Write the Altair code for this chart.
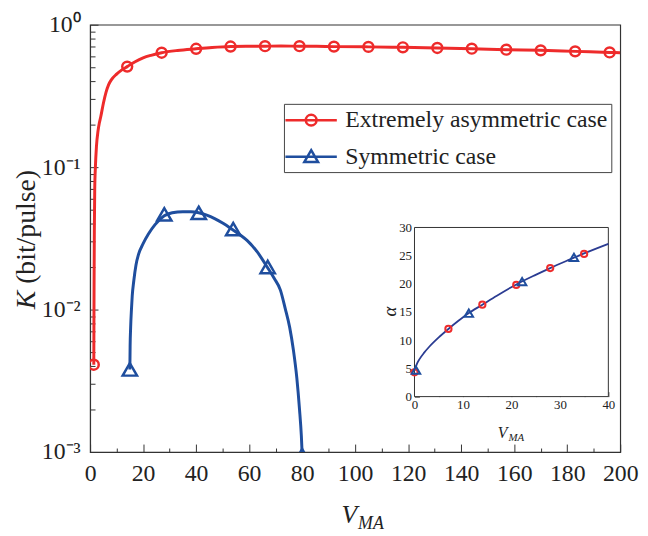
import altair as alt
import pandas as pd

FONT = "Liberation Serif"
W, H = 536, 432
RED = "#ee2b2b"
BLUE = "#1f4e9e"
NAVY = "#2b3c92"
INK = "#222222"

# ---------------- data ----------------
series_names = ["Extremely asymmetric case", "Symmetric case"]

red_x = [1.4, 1.45, 1.5, 1.6, 1.75, 2.0, 2.4, 3.0, 3.5, 4.0, 5.0, 6.0, 7.0, 8.0, 10, 12, 14, 17, 20, 23,
         27, 33, 40, 46, 53, 60, 66, 72, 79, 85.5, 92, 105, 118, 131, 144, 157, 170, 183, 196, 200]
red_y = [0.0041, 0.008, 0.015, 0.035, 0.07, 0.1, 0.14, 0.18, 0.205, 0.225, 0.28, 0.335, 0.38, 0.41, 0.45,
         0.482, 0.508, 0.55, 0.585, 0.61, 0.636, 0.66, 0.678, 0.692, 0.703, 0.706, 0.707, 0.708, 0.707,
         0.705, 0.702, 0.699, 0.694, 0.687, 0.679, 0.668, 0.661, 0.650, 0.639, 0.636]
red_mx = [1.4, 14, 27, 40, 53, 66, 79, 92, 105, 118, 131, 144, 157, 170, 183, 196]
red_my = [0.0041, 0.508, 0.636, 0.678, 0.703, 0.707, 0.707, 0.702, 0.699, 0.694, 0.687, 0.679,
          0.668, 0.661, 0.650, 0.639]

blue_x = [15.0, 15.1, 15.3, 15.6, 15.9, 16.5, 17.3, 18.3, 20, 22, 24.5, 28, 31, 35, 38, 41, 44, 47, 50,
          53.4, 56.5, 59.3, 63, 66.8, 69.5, 71.8, 73.6, 75.3, 76.7, 78, 79, 79.7, 80.2]
blue_y = [0.0038, 0.0055, 0.0075, 0.0100, 0.0125, 0.016, 0.0205, 0.0245, 0.029, 0.0339, 0.0395, 0.0455,
          0.0478, 0.0487, 0.0486, 0.0478, 0.046, 0.0435, 0.0405, 0.0368, 0.0335, 0.0305, 0.0255, 0.0199,
          0.0165, 0.0137, 0.0102, 0.0075, 0.0052, 0.0033, 0.002, 0.0013, 0.0008]
blue_mx = [15, 28, 41, 54, 67, 80]
blue_my = [0.0038, 0.0466, 0.0478, 0.0367, 0.0199, 0.00095]

# inset: alpha vs V_MA
inset_cx = [0, 0.5, 1, 2, 3, 5, 7, 9, 11, 14, 17, 21, 25, 28, 32, 35, 40]
inset_cy = [4.6, 5.8, 6.6, 7.8, 8.8, 10.5, 12.0, 13.4, 14.7, 16.3, 17.9, 19.9, 21.6, 22.8, 24.3, 25.4, 27.1]
inset_red_x = [0, 7, 14, 21, 28, 35]
inset_red_y = [4.3, 12.0, 16.3, 19.8, 22.8, 25.3]
inset_blue_x = [0.3, 11.2, 22.2, 32.9]
inset_blue_y = [4.7, 14.8, 20.4, 24.7]

x_major = list(range(0, 201, 20))
x_minor_all = list(range(0, 201, 10))
y_decades = [0.001, 0.01, 0.1, 1]
y_tick_labels = ["10\u207b\u00b3", "10\u207b\u00b2", "10\u207b\u00b9", "10\u2070"]
y_minor_all = [k * 10.0 ** e for e in (-3, -2, -1) for k in range(1, 10)] + [1.0]
ix_major = list(range(0, 41, 10))
ix_all = list(range(0, 41, 5))
iy_major = list(range(0, 31, 5))
iy_all = [i * 2.5 for i in range(13)]

x_title = ["V", "MA"]
y_title = ["K", "(bit/pulse)"]
inset_titles = ["\u03b1", "V", "MA"]

# ---------------- frames ----------------
red_line_df = pd.DataFrame({"x": red_x, "y": red_y})
red_pts_df = pd.DataFrame({"x": red_mx, "y": red_my})
blue_line_df = pd.DataFrame({"x": blue_x, "y": blue_y})
blue_pts_df = pd.DataFrame({"x": blue_mx, "y": blue_my})
legend_df = pd.DataFrame({"series": series_names})
ic_df = pd.DataFrame({"x": inset_cx, "y": inset_cy})
ir_df = pd.DataFrame({"x": inset_red_x, "y": inset_red_y})
ib_df = pd.DataFrame({"x": inset_blue_x, "y": inset_blue_y})
frame_df = pd.DataFrame({"x": [0], "x2": [40], "y": [0], "y2": [30]})

xs = alt.Scale(domain=[0, 200], nice=False, zero=False)
ys = alt.Scale(type="log", domain=[0.001, 1], nice=False)

lab_expr = ("datum.value > 0.5 ? '%s' : datum.value > 0.05 ? '%s' : datum.value > 0.005 ? '%s' : '%s'"
            % (y_tick_labels[3], y_tick_labels[2], y_tick_labels[1], y_tick_labels[0]))

ax_x_lab = alt.Axis(values=x_major, ticks=False, tickSize=0, labelPadding=10, title=None, grid=False,
                    labelFontSize=24, labelFont=FONT, labelColor=INK, domainColor="#333",
                    labelOverlap=False, labelFlush=False)
ax_y_lab = alt.Axis(values=y_decades, ticks=False, tickSize=0, labelPadding=10, title=None, grid=False,
                    labelFontSize=24, labelFont=FONT, labelColor=INK, domainColor="#333",
                    labelExpr=lab_expr, labelOverlap=False, labelBaseline="middle", labelFlush=False)
ax_x_tick = alt.Axis(orient="top", offset=-H, values=x_minor_all, labels=False, domain=False, title=None,
                     grid=False, tickColor="#333",
                     tickSize={"condition": {"test": "datum.value % 20 === 0", "value": 8}, "value": 4})
ax_y_tick = alt.Axis(orient="right", offset=-W, values=y_minor_all, labels=False, domain=False, title=None,
                     grid=False, tickColor="#333",
                     tickSize={"condition": {"test": "abs(log(datum.value)/LN10 - round(log(datum.value)/LN10)) < 0.001",
                                             "value": 8}, "value": 5})

red_line = alt.Chart(red_line_df).mark_line(color=RED, strokeWidth=3, interpolate="monotone", clip=True).encode(
    x=alt.X("x:Q", scale=xs, axis=ax_x_lab), y=alt.Y("y:Q", scale=ys, axis=ax_y_lab))
blue_line = alt.Chart(blue_line_df).mark_line(color=BLUE, strokeWidth=3, interpolate="monotone", clip=True).encode(
    x=alt.X("x:Q", scale=xs, axis=ax_x_tick), y=alt.Y("y:Q", scale=ys, axis=ax_y_tick))
red_pts = alt.Chart(red_pts_df).mark_point(shape="circle", filled=False, size=100, strokeWidth=2.5,
                                           color=RED, opacity=1, clip=True).encode(
    x=alt.X("x:Q", scale=xs, axis=None), y=alt.Y("y:Q", scale=ys, axis=None))
blue_pts = alt.Chart(blue_pts_df).mark_point(shape="triangle-up", filled=False, size=210, strokeWidth=2.5,
                                             color=BLUE, opacity=1, clip=True).encode(
    x=alt.X("x:Q", scale=xs, axis=None), y=alt.Y("y:Q", scale=ys, axis=None))

# legend symbols: a line segment with the marker, in units of 12 px (symbol size 24 px)
circ_path = ("M-1.25,0L3.08,0M1.37,0A0.45,0.45,0,1,1,0.47,0A0.45,0.45,0,1,1,1.37,0")
tri_path = "M-1.25,0L3.08,0M0.92,-0.55L1.5,0.45L0.34,0.45Z"
legend_layer = alt.Chart(legend_df).mark_point(filled=False, size=576, strokeWidth=2.5, opacity=1).encode(
    color=alt.Color("series:N", scale=alt.Scale(domain=series_names, range=[RED, BLUE]),
                    legend=alt.Legend(title=None, orient="none", legendX=196, legendY=80, padding=3,
                                      symbolSize=576, symbolStrokeWidth=2.5, labelFontSize=24,
                                      labelFont=FONT, labelColor=INK, labelOffset=32, rowPadding=11,
                                      strokeColor="#444", fillColor="white", labelLimit=400)),
    shape=alt.Shape("series:N", scale=alt.Scale(domain=series_names, range=[circ_path, tri_path]))
).transform_filter("false")

txt_df = pd.DataFrame({"t": [0]})
def label(text, x, y, size, style="normal", angle=0, align="center", baseline="alphabetic"):
    return alt.Chart(txt_df).mark_text(text=text, font=FONT, fontSize=size, fontStyle=style, color=INK,
                                       angle=angle, align=align, baseline=baseline).encode(
        x=alt.value(x), y=alt.value(y))

xt1 = label(x_title[0], 270, 504, 26, "italic", align="right")
xt2 = label(x_title[1], 271, 510, 18, "italic", align="left")
yt1 = label(y_title[0], -64, 269, 28, "italic", angle=270, align="right", baseline="middle")
yt2 = label(y_title[1], -64, 262, 28, "normal", angle=270, align="left", baseline="middle")

main = alt.layer(red_line, blue_line, red_pts, blue_pts, legend_layer, xt1, xt2, yt1, yt2).resolve_axis(
    x="independent", y="independent")

# ---------------- inset ----------------
IX0, IX1, IYB, IYT = 328, 524, 376, 205
ixs = alt.Scale(domain=[0, 40], range=[IX0, IX1], nice=False, zero=False)
iys = alt.Scale(domain=[0, 30], range=[IYB, IYT], nice=False, zero=False)

iax_x_lab = alt.Axis(orient="bottom", offset=IYB - H, values=ix_major, ticks=False, tickSize=0, domain=False,
                     labelPadding=2, labelFontSize=13, labelFont=FONT, labelColor=INK, title=None, grid=False,
                     labelOverlap=False, labelFlush=False)
iax_y_lab = alt.Axis(orient="left", offset=-IX0, values=iy_major, ticks=False, tickSize=0, domain=False,
                     labelPadding=3, labelFontSize=13, labelFont=FONT, labelColor=INK, title=None, grid=False,
                     labelOverlap=False, labelBaseline="middle", labelFlush=False)
iax_x_tick = alt.Axis(orient="top", offset=-IYB, values=ix_all, labels=False, domain=False, title=None,
                      grid=False, tickColor="#333",
                      tickSize={"condition": {"test": "datum.value % 10 === 0", "value": 5}, "value": 3})
iax_y_tick = alt.Axis(orient="right", offset=IX0 - W, values=iy_all, labels=False, domain=False, title=None,
                      grid=False, tickColor="#333",
                      tickSize={"condition": {"test": "datum.value % 5 === 0", "value": 5}, "value": 3})

frame = alt.Chart(frame_df).mark_rect(fill="white", stroke="#333", strokeWidth=1).encode(
    x=alt.X("x:Q", scale=ixs, axis=iax_x_lab), x2="x2:Q",
    y=alt.Y("y:Q", scale=iys, axis=iax_y_lab), y2="y2:Q")
icurve = alt.Chart(ic_df).mark_line(color=NAVY, strokeWidth=1.8, interpolate="monotone").encode(
    x=alt.X("x:Q", scale=ixs, axis=iax_x_tick), y=alt.Y("y:Q", scale=iys, axis=iax_y_tick))
ired = alt.Chart(ir_df).mark_point(shape="circle", filled=False, size=40, strokeWidth=2, color=RED,
                                   opacity=1).encode(
    x=alt.X("x:Q", scale=ixs, axis=None), y=alt.Y("y:Q", scale=iys, axis=None))
iblue = alt.Chart(ib_df).mark_point(shape="triangle-up", filled=False, size=75, strokeWidth=2, color=BLUE,
                                    opacity=1).encode(
    x=alt.X("x:Q", scale=ixs, axis=None), y=alt.Y("y:Q", scale=iys, axis=None))

it1 = label(inset_titles[0], 303, 290, 19, "italic", angle=270, align="center", baseline="middle")
it2 = label(inset_titles[1], 422, 418, 16, "italic", align="right")
it3 = label(inset_titles[2], 423, 421, 11, "italic", align="left")

inset = alt.layer(frame, icurve, ired, iblue, it1, it2, it3).resolve_axis(x="independent", y="independent")

chart = alt.layer(main, inset).resolve_scale(x="independent", y="independent").properties(
    width=W, height=H,
    padding={"left": 83, "top": 14, "right": 20, "bottom": 80},
    autosize=alt.AutoSizeParams(type="none"),
    background="white",
).configure_view(stroke="#333", strokeWidth=1.2)

chart.save("out.html", embed_options={"renderer": "svg", "actions": False})
